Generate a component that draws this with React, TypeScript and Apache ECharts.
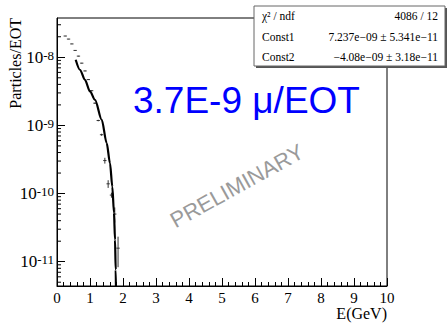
import React, { useEffect, useRef } from "react";
import * as echarts from "echarts";

// Measured spectrum (bin centres, GeV) and values (particles/EOT)
const energy = [0.25, 0.35, 0.45, 0.55, 0.65, 0.75, 0.85, 0.95, 1.05, 1.15, 1.25, 1.35, 1.45, 1.55, 1.65, 1.75, 1.85];
const flux = [2.05e-8, 1.85e-8, 1.57e-8, 1.26e-8, 1.04e-8, 8.2e-9, 6.3e-9, 4.7e-9, 3.23e-9, 2.12e-9, 1.18e-9, 7.3e-10, 3.05e-10, 1.39e-10, 9.5e-11, 5.0e-11, 1.58e-11];
const fluxErr = [1e-10, 1e-10, 1e-10, 1e-10, 1e-10, 8e-11, 7e-11, 6e-11, 5e-11, 4e-11, 3e-11, 2.5e-11, 3e-11, 1.8e-11, 8e-12, 1.25e-11, 7.5e-12];
const binHalfWidth = 0.05;

// Fit curve
const fitE = [0.567, 0.7, 0.848, 1.0, 1.152, 1.355, 1.506, 1.606, 1.676, 1.727, 1.758, 1.779, 1.79];
const fitV = [9.2e-9, 6.5e-9, 4.65e-9, 3.15e-9, 2.37e-9, 1.21e-9, 5.5e-10, 2.79e-10, 1.27e-10, 5.2e-11, 2.1e-11, 7.6e-12, 3e-12];

// Axes
const xMin = 0;
const xMax = 10;
const yMin = 4.4e-12;
const yMax = 3.77e-8;
const yDecades = [-12, -11, -10, -9, -8];
const minorMult = [2, 3, 4, 5, 6, 7, 8, 9];

// Stats box texts
const statsRows = [
  ["χ² / ndf", "4086 / 12"],
  ["Const1", "7.237e−09 ± 5.341e−11"],
  ["Const2", "−4.08e−09 ± 3.18e−11"],
];

const serif = "Liberation Serif";
const sans = "Liberation Sans";

export default function App() {
  const ref = useRef<HTMLDivElement>(null);
  useEffect(() => {
    if (!ref.current) return;
    const chart = echarts.init(ref.current, undefined, { renderer: "svg" });

    const minorVals: number[][] = [];
    yDecades.forEach((d) => {
      minorMult.forEach((m) => {
        const v = m * Math.pow(10, d);
        if (v > yMin && v < yMax) minorVals.push([0, v]);
      });
    });

    const points = energy.map((e, i) => [e, flux[i], fluxErr[i]]);
    const fit = fitE.map((e, i) => [e, fitV[i]]);

    const option: any = {
      animation: false,
      backgroundColor: "#fff",
      grid: {
        left: 57,
        top: 18,
        width: 330,
        height: 268,
        show: true,
        borderColor: "#000",
        borderWidth: 1,
        backgroundColor: "transparent",
        outerBoundsMode: "none",
      },
      xAxis: {
        type: "value",
        min: xMin,
        max: xMax,
        interval: 1,
        name: "E(GeV)",
        nameLocation: "end",
        nameGap: 0,
        nameTextStyle: {
          align: "right",
          verticalAlign: "top",
          padding: [19, 0, 0, 0],
          fontSize: 16,
          fontFamily: serif,
          color: "#000",
        },
        axisLine: { show: true, lineStyle: { color: "#000", width: 1 } },
        axisTick: { show: true, inside: true, length: 8, lineStyle: { color: "#000" } },
        minorTick: { show: true, splitNumber: 5, length: 4, lineStyle: { color: "#000" } },
        splitLine: { show: false },
        axisLabel: { fontSize: 15, fontFamily: serif, color: "#000", margin: 4 },
      },
      yAxis: {
        type: "log",
        logBase: 10,
        min: yMin,
        max: yMax,
        axisLine: { show: true, lineStyle: { color: "#000", width: 1 } },
        axisTick: { show: true, inside: true, length: 8, lineStyle: { color: "#000" } },
        splitLine: { show: false },
        axisLabel: {
          margin: 3,
          showMinLabel: false,
          showMaxLabel: false,
          formatter: (v: number) => {
            const l = Math.log10(v);
            const r = Math.round(l);
            if (Math.abs(l - r) > 0.01) return "";
            return "{b|10}{s|" + r + "}";
          },
          rich: {
            b: {
              fontSize: 17,
              fontFamily: serif,
              color: "#000",
              lineHeight: 17,
              padding: [7, 0, 0, 0],
              verticalAlign: "bottom",
            },
            s: {
              fontSize: 13,
              fontFamily: serif,
              color: "#000",
              lineHeight: 13,
              verticalAlign: "top",
            },
          },
        },
      },
      series: [
        {
          type: "custom",
          name: "minor",
          silent: true,
          data: minorVals,
          renderItem: (params: any, api: any) => {
            const p = api.coord([0, api.value(1)]);
            return {
              type: "line",
              shape: { x1: p[0], y1: p[1], x2: p[0] + 4, y2: p[1] },
              style: { stroke: "#000", lineWidth: 1 },
            };
          },
        },
        {
          type: "custom",
          name: "data",
          silent: true,
          data: points,
          renderItem: (params: any, api: any) => {
            const e = api.value(0);
            const v = api.value(1);
            const err = api.value(2);
            const l = api.coord([e - binHalfWidth, v]);
            const r = api.coord([e + binHalfWidth, v]);
            const t = api.coord([e, v + err]);
            const b = api.coord([e, Math.max(v - err, yMin)]);
            return {
              type: "group",
              children: [
                { type: "line", shape: { x1: l[0], y1: l[1], x2: r[0], y2: r[1] }, style: { stroke: "#333", lineWidth: 1 } },
                { type: "line", shape: { x1: t[0], y1: t[1], x2: b[0], y2: b[1] }, style: { stroke: "#333", lineWidth: 1 } },
              ],
            };
          },
        },
        {
          type: "line",
          name: "fit",
          data: fit,
          showSymbol: false,
          smooth: 0.3,
          smoothMonotone: "x",
          clip: true,
          lineStyle: { color: "#000", width: 2.2 },
          z: 5,
        },
      ],
      graphic: [
        {
          type: "text",
          x: 15,
          y: 18,
          rotation: Math.PI / 2,
          style: {
            text: "Particles/EOT",
            fontSize: 16,
            fontFamily: serif,
            fill: "#000",
            align: "right",
            verticalAlign: "middle",
          },
        },
        {
          type: "text",
          x: 133,
          y: 100,
          z: 20,
          style: {
            text: "3.7E-9 μ/EOT",
            fontSize: 37,
            fontFamily: sans,
            fill: "#0000ff",
            align: "left",
            verticalAlign: "middle",
          },
        },
        {
          type: "text",
          x: 237,
          y: 186,
          rotation: (29 * Math.PI) / 180,
          z: 20,
          style: {
            text: "PRELIMINARY",
            fontSize: 22,
            fontFamily: sans,
            fill: "#9a9a9a",
            align: "center",
            verticalAlign: "middle",
          },
        },
        {
          type: "group",
          z: 30,
          children: [
            { type: "rect", shape: { x: 256, y: 8, width: 191, height: 60 }, style: { fill: "#555" } },
            { type: "rect", shape: { x: 254, y: 6, width: 191, height: 60 }, style: { fill: "#fff", stroke: "#666", lineWidth: 1 } },
            ...statsRows.flatMap((row, i) => [
              {
                type: "text",
                x: 262,
                y: 16 + i * 20.5,
                style: { text: row[0], fontSize: 11.5, fontFamily: serif, fill: "#000", align: "left", verticalAlign: "middle" },
              },
              {
                type: "text",
                x: 438,
                y: 16 + i * 20.5,
                style: { text: row[1], fontSize: 11.5, fontFamily: serif, fill: "#000", align: "right", verticalAlign: "middle" },
              },
            ]),
          ],
        },
      ],
    };
    chart.setOption(option);
    return () => chart.dispose();
  }, []);
  return (
    <div
      ref={ref}
      style={{ position: "fixed", left: 0, top: 0, width: 447, height: 324, background: "#fff" }}
    />
  );
}
